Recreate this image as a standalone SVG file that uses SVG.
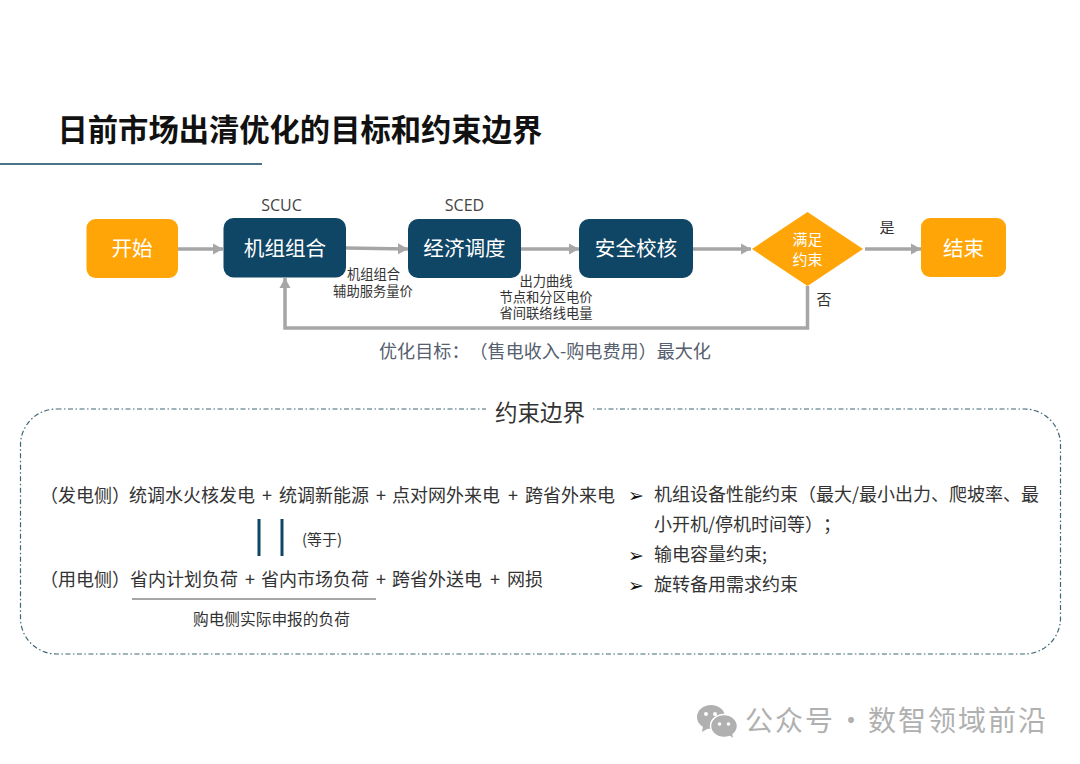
<svg xmlns="http://www.w3.org/2000/svg" width="1080" height="764" viewBox="0 0 1080 764">
<defs>
<marker id="arr" markerUnits="userSpaceOnUse" markerWidth="12" markerHeight="12" refX="10" refY="6" orient="auto"><path d="M0 0.5L10 6L0 11.500Z" fill="#a6a6a6"/></marker>
</defs>
<style>
text{font-family:"Noto Sans CJK SC","Noto Sans",sans-serif;fill:#333;text-spacing-trim:space-all}
.navy{fill:#0f4565}.orange{fill:#ffa508}
.c{text-anchor:middle}
.w20{font-size:20.600px;fill:#fff}
.s13{font-size:13.300px;fill:#333}
.b18{font-size:18px}
.conn{fill:none;stroke:#a6a6a6;stroke-width:3.500;marker-end:url(#arr)}
.lat{font-family:"Open Sans","Noto Sans",sans-serif;font-size:16px;fill:#444}
.bul{font-family:"DejaVu Sans",sans-serif;font-size:19px;fill:#111}
</style>
<rect width="1080" height="764" fill="#fff"/>
<g id="header">
<text x="57.500" y="141" font-size="30.300" font-weight="700" style="fill:#111">日前市场出清优化的目标和约束边界</text>
<line x1="0" y1="164" x2="262" y2="164" stroke="#0f4565" stroke-width="1.500"/>
</g>
<g id="connectors">
<path class="conn" d="M178 249H223"/>
<path class="conn" d="M346 248L408 249"/>
<path class="conn" d="M521 249H579"/>
<path class="conn" d="M693 249H751"/>
<path class="conn" d="M865 249H921"/>
<path class="conn" d="M807.500 286V328H285V278"/>
</g>
<g id="node-start"><rect class="orange" x="86.500" y="219" width="91.500" height="59" rx="9"/><text class="c w20" x="132" y="256">开始</text></g>
<g id="node-scuc"><rect class="navy" x="223.500" y="218" width="122.500" height="59.500" rx="10"/><text class="c w20" x="285" y="256">机组组合</text><text class="c lat" x="281.500" y="211">SCUC</text></g>
<g id="node-sced"><rect class="navy" x="408" y="219" width="113" height="59" rx="10"/><text class="c w20" x="464.500" y="256">经济调度</text><text class="c lat" x="464.500" y="211">SCED</text></g>
<g id="node-check"><rect class="navy" x="579" y="219" width="114" height="59" rx="10"/><text class="c w20" x="636" y="256">安全校核</text></g>
<g id="node-decision"><polygon class="orange" points="807.500,212 863,249 807.500,286 752,249"/><text class="c" x="807.500" y="245" font-size="15" style="fill:#fff">满足</text><text class="c" x="807.500" y="265" font-size="15" style="fill:#fff">约束</text></g>
<g id="node-end"><rect class="orange" x="921" y="218" width="85" height="59" rx="9"/><text class="c w20" x="963.500" y="256">结束</text></g>
<g id="labels">
<text class="c s13" x="373.500" y="279">机组组合</text>
<text class="c s13" x="373" y="296">辅助服务量价</text>
<text class="c s13" x="546" y="286">出力曲线</text>
<text class="c s13" x="546" y="302">节点和分区电价</text>
<text class="c s13" x="546" y="318">省间联络线电量</text>
<text class="c" x="887" y="233" font-size="15">是</text>
<text class="c" x="824" y="305" font-size="15">否</text>
<text x="379" y="358" font-size="18.100" style="fill:#56606e">优化目标：（售电收入-购电费用）最大化</text>
</g>
<g id="constraint-box">
<rect x="20.500" y="409" width="1040" height="245" rx="36" fill="none" stroke="#3f6677" stroke-width="1.200" stroke-dasharray="5 2.500 1.500 2.500"/>
<rect x="486" y="400" width="106" height="20" fill="#fff"/>
<text class="c" x="540" y="421" font-size="22.500">约束边界</text>
<text class="b18" y="502"><tspan x="40">（发电侧）</tspan><tspan x="129">统调水火核发电</tspan><tspan x="262">+</tspan><tspan x="279">统调新能源</tspan><tspan x="376">+</tspan><tspan x="392">点对网外来电</tspan><tspan x="508">+</tspan><tspan x="525">跨省外来电</tspan></text>
<text class="b18" y="586"><tspan x="40">（用电侧）</tspan><tspan x="130">省内计划负荷</tspan><tspan x="245">+</tspan><tspan x="261">省内市场负荷</tspan><tspan x="376">+</tspan><tspan x="392">跨省外送电</tspan><tspan x="490">+</tspan><tspan x="507">网损</tspan></text>
<line x1="259" y1="519" x2="259" y2="556" stroke="#0f4565" stroke-width="3"/>
<line x1="282" y1="519" x2="282" y2="556" stroke="#0f4565" stroke-width="3"/>
<text x="302" y="545" font-size="15">(等于)</text>
<line x1="132" y1="599" x2="376" y2="599" stroke="#a6a6a6" stroke-width="2"/>
<text x="193" y="625" font-size="15.700">购电侧实际申报的负荷</text>
<text class="bul" x="628" y="502">➢</text><text class="bul" x="628" y="562">➢</text><text class="bul" x="628" y="592">➢</text>
<text class="b18" x="654" y="501">机组设备性能约束（最大/最小出力、爬坡率、最</text>
<text class="b18" x="654" y="531">小开机/停机时间等）；</text>
<text class="b18" x="654" y="561">输电容量约束;</text>
<text class="b18" x="654" y="591">旋转备用需求约束</text>
</g>
<g id="watermark">
<ellipse cx="711" cy="717" rx="14" ry="12" fill="#b0b0b0"/>
<path d="M703 726l-1 6l7-4z" fill="#b0b0b0"/>
<ellipse cx="724" cy="726" rx="13.500" ry="11.500" fill="#b0b0b0" stroke="#fff" stroke-width="1.500"/>
<path d="M729 735l4 3l-1-6z" fill="#b0b0b0"/>
<circle cx="706" cy="714" r="2" fill="#fff"/><circle cx="715" cy="714" r="2" fill="#fff"/>
<circle cx="719.500" cy="724" r="1.800" fill="#fff"/><circle cx="728.500" cy="724" r="1.800" fill="#fff"/>
<text y="731" font-size="28" letter-spacing="2" style="fill:#b0b0b0"><tspan x="745">公众号</tspan><tspan x="837">·</tspan><tspan x="868">数智领域前沿</tspan></text>
</g>
</svg>
